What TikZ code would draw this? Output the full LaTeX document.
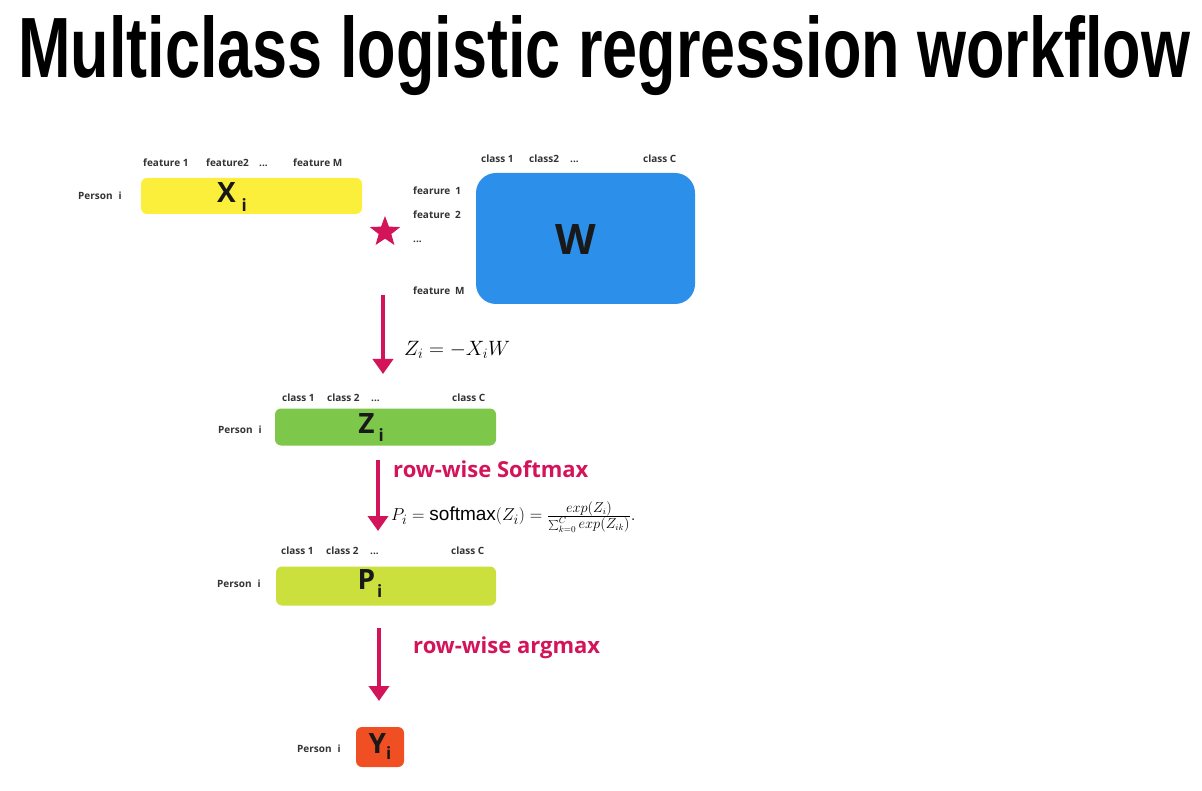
\documentclass[tikz,border=0pt]{standalone}
\usepackage{fontspec}
\setmainfont{Open Sans}
\newfontfamily\titlefont{Liberation Sans}
\newfontfamily\arialfont{Liberation Sans}
\usetikzlibrary{arrows.meta,shapes.geometric}

\definecolor{xyellow}{HTML}{FCEF3C}
\definecolor{wblue}{HTML}{2C8FE9}
\definecolor{zgreen}{HTML}{7DC84A}
\definecolor{plime}{HTML}{CBE03D}
\definecolor{yred}{HTML}{F04E23}
\definecolor{pmag}{HTML}{D4145A}

\begin{document}
\begin{tikzpicture}[x=1pt,y=-1pt,
    lbl/.style={font=\fontsize{10}{11}\selectfont\bfseries, text=black!80, inner sep=0pt, anchor=west,
        text height=7.5pt, text depth=2pt, yshift=-1.5pt},
    mat/.style={rounded corners=6pt, inner sep=0pt},
    big/.style={font=\fontsize{28}{30}\selectfont\bfseries, text=black!90, inner sep=0pt},
    flow/.style={line width=4pt, draw=pmag, -{Triangle[width=20pt,length=15pt]}},
    note/.style={font=\fontsize{22}{24}\selectfont\bfseries, text=pmag, inner sep=0pt, anchor=west}]
    \fill[white] (0,0) rectangle (1202,791);
    \useasboundingbox (0,0) rectangle (1202,791);

    \node[anchor=base west, inner sep=0pt] (title) at (18,78)
        {\resizebox{1172pt}{62pt}{\titlefont\bfseries Multiclass logistic regression workflow}};

    % input row
    \node[lbl] (f1) at (143,162) {feature 1};
    \node[lbl] (f2) at (206,162) {feature2};
    \node[lbl] (fd) at (259,162) {...};
    \node[lbl] (fM) at (293,162) {feature M};
    \node[lbl] (px) at (78,195) {Person\hspace{6pt}i};
    \node[mat, fill=xyellow, minimum width=221pt, minimum height=36pt] (X) at (251.5,196) {};
    \node[big] (xl) at (232,197) {X\hspace{6pt}\raisebox{-9pt}{\fontsize{17}{17}\selectfont i}};

    \node[star, star points=5, star point ratio=2.4, fill=pmag, minimum size=32pt, inner sep=0pt] (mul) at (385,232) {};

    % weights
    \node[lbl] (c1) at (481,158) {class 1};
    \node[lbl] (c2) at (529,158) {class2};
    \node[lbl] (cd) at (570,158) {...};
    \node[lbl] (cC) at (643,158) {class C};
    \node[lbl] (r1) at (413,190) {fearure\hspace{5pt}1};
    \node[lbl] (r2) at (413,214) {feature\hspace{5pt}2};
    \node[lbl] (rd) at (413,238) {...};
    \node[lbl] (rM) at (413,290) {feature\hspace{5pt}M};
    \node[rounded corners=20pt, fill=wblue, minimum width=219pt, minimum height=131pt, inner sep=0pt] (W) at (585.5,238.5) {};
    \node[font=\fontsize{42}{44}\selectfont\bfseries, text=black!90, inner sep=0pt] (wl) at (576,240) {W};

    \coordinate (s1) at (383,295);
    \coordinate (e1) at (383,374);
    \draw[flow] (s1) -- (e1);
    \node[anchor=west, inner sep=0pt] (zeq) at (404,350) {\fontsize{21}{22}\selectfont$Z_i = -X_iW$};

    % scores
    \node[lbl] (zc1) at (282,397) {class 1};
    \node[lbl] (zc2) at (327,397) {class 2};
    \node[lbl] (zcd) at (371,397) {...};
    \node[lbl] (zcC) at (452,397) {class C};
    \node[lbl] (pz) at (218,429) {Person\hspace{6pt}i};
    \node[mat, fill=zgreen, minimum width=221pt, minimum height=37pt] (Z) at (385.5,427) {};
    \node[big] (zl) at (371,428) {Z\hspace{4pt}\raisebox{-8pt}{\fontsize{17}{17}\selectfont i}};

    \coordinate (s2) at (378,460);
    \coordinate (e2) at (378,531);
    \draw[flow] (s2) -- (e2);
    \node[note] (soft) at (393,469) {row-wise Softmax};
    \node[anchor=west, inner sep=0pt] (peq) at (391,517)
        {\fontsize{19}{21}\selectfont$P_i = \mbox{\arialfont softmax}(Z_i) = \frac{exp(Z_i)}{\sum_{k=0}^{C} exp(Z_{ik})}.$};

    % probabilities
    \node[lbl] (pc1) at (281,550) {class 1};
    \node[lbl] (pc2) at (326,550) {class 2};
    \node[lbl] (pcd) at (370,550) {...};
    \node[lbl] (pcC) at (451,550) {class C};
    \node[lbl] (pp) at (217,583) {Person\hspace{6pt}i};
    \node[mat, fill=plime, minimum width=220pt, minimum height=39pt] (P) at (386,586) {};
    \node[big] (pl) at (370,584) {P\hspace{2pt}\raisebox{-8pt}{\fontsize{17}{17}\selectfont i}};

    \coordinate (s3) at (379,628);
    \coordinate (e3) at (379,701);
    \draw[flow] (s3) -- (e3);
    \node[note] (amax) at (413,648) {row-wise argmax};

    % prediction
    \node[lbl] (py) at (297,748) {Person\hspace{6pt}i};
    \node[mat, fill=yred, minimum width=48pt, minimum height=40pt] (Y) at (380,747) {};
    \node[big] (yl) at (380,747) {Y\raisebox{-6pt}{\fontsize{17}{17}\selectfont i}};
\end{tikzpicture}
\end{document}
